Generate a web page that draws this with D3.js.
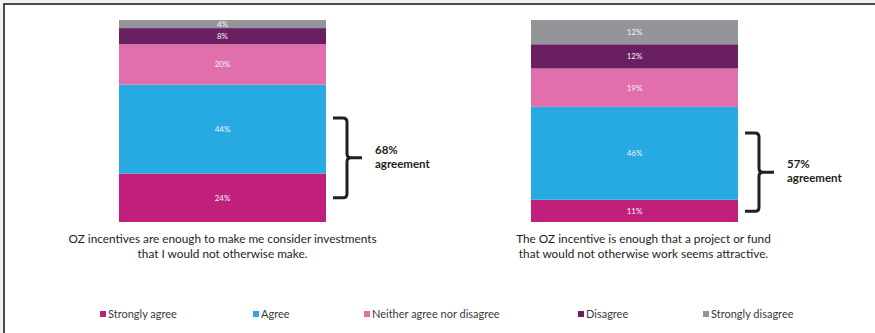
<!DOCTYPE html>
<html>
<head>
<meta charset="utf-8">
<script src="https://cdn.jsdelivr.net/npm/d3@7"></script>
<style>
	body { margin: 0; background: #f2f3f5; }
	svg { display: block; font-family: Lato, 'Open Sans', sans-serif; }
</style>
</head>
<body>
<div id="chart"></div>
<script>
// questions (one stacked column each)
var questions = ['q1', 'q2'];
var captions = [
	['OZ incentives are enough to make me consider investments', 'that I would not otherwise make.'],
	['The OZ incentive is enough that a project or fund', 'that would not otherwise work seems attractive.']
];
var categories = ['Strongly agree', 'Agree', 'Neither agree nor disagree', 'Disagree', 'Strongly disagree'];
var colors = ['#c0207b', '#27aae1', '#e16fab', '#6b1f63', '#939598'];

// percent per category, bottom to top
var q1Values = [24, 44, 20, 8, 4];
var q2Values = [11, 46, 19, 12, 12];

// agreement annotation
var agreeLabels = ['68%', '57%'];
var bracketRange = [[12, 51.5], [5.3, 44]];

var W = 875, H = 333;
var plotTop = 20, plotBottom = 222;

var svg = d3.select('#chart').append('svg').attr('width', W).attr('height', H);

// frame
svg.append('rect').attr('x', 4).attr('y', 4).attr('width', W + 10).attr('height', H + 10)
	.attr('fill', '#fff').attr('stroke', '#231f20').attr('stroke-width', 1.6);

var x = d3.scaleBand().domain(questions).range([16.5, 840.5]).paddingInner(0.4976).paddingOuter(0.2488);
var y = d3.scaleLinear().domain([0, 100]).range([plotBottom, plotTop]);

var rows = questions.map(function (q, i) {
	var vals = i === 0 ? q1Values : q2Values;
	var o = { q: q };
	categories.forEach(function (c, j) { o[c] = vals[j]; });
	return o;
});

var series = d3.stack().keys(categories)(rows);

var layer = svg.selectAll('g.layer')
	.data(series)
	.enter()
	.append('g')
	.attr('class', 'layer')
	.attr('fill', function (d, i) { return colors[i]; });

layer.selectAll('rect')
	.data(function (d) { return d; })
	.enter()
	.append('rect')
	.attr('x', function (d) { return x(d.data.q); })
	.attr('y', function (d) { return y(d[1]); })
	.attr('width', x.bandwidth())
	.attr('height', function (d) { return y(d[0]) - y(d[1]); });

// value labels
layer.selectAll('text')
	.data(function (d) { return d; })
	.enter()
	.append('text')
	.attr('x', function (d) { return x(d.data.q) + x.bandwidth() / 2; })
	.attr('y', function (d) { return (y(d[0]) + y(d[1])) / 2 + 3; })
	.attr('text-anchor', 'middle')
	.attr('fill', '#f4f4f4')
	.attr('font-size', '8px')
	.text(function (d) { return (d[1] - d[0]) + '%'; });

// captions
var capDx = [0, 9];
questions.forEach(function (q, i) {
	var cx = x(q) + x.bandwidth() / 2 + capDx[i];
	captions[i].forEach(function (line, k) {
		svg.append('text')
			.attr('x', cx)
			.attr('y', 243 + k * 15)
			.attr('text-anchor', 'middle')
			.attr('font-size', '11.8px')
			.attr('fill', '#231f20')
			.text(line);
	});
});

// brackets
questions.forEach(function (q, i) {
	var x0 = x(q) + x.bandwidth() + 7;
	var y0 = y(bracketRange[i][1]), y1 = y(bracketRange[i][0]);
	var xm = x0 + 14, ym = (y0 + y1) / 2;
	var r = 4;
	var p = d3.path();
	p.moveTo(x0, y0);
	p.lineTo(xm - r, y0);
	p.quadraticCurveTo(xm, y0, xm, y0 + r);
	p.lineTo(xm, ym - r);
	p.quadraticCurveTo(xm, ym, xm + r, ym);
	p.lineTo(xm + 15, ym);
	p.moveTo(xm + r, ym);
	p.quadraticCurveTo(xm, ym, xm, ym + r);
	p.lineTo(xm, y1 - r);
	p.quadraticCurveTo(xm, y1, xm - r, y1);
	p.lineTo(x0, y1);
	svg.append('path').attr('d', p.toString())
		.attr('fill', 'none').attr('stroke', '#231f20').attr('stroke-width', 3);

	var t = svg.append('text')
		.attr('x', xm + 28)
		.attr('y', ym - 4)
		.attr('font-size', '11.5px')
		.attr('font-weight', 'bold')
		.attr('fill', '#231f20');
	t.append('tspan').text(agreeLabels[i]);
	t.append('tspan').attr('x', xm + 28).attr('dy', 14).text('agreement');
});

// legend
var legendX = [100, 253, 364, 578, 703];
var lg = svg.selectAll('g.legend')
	.data(categories)
	.enter()
	.append('g')
	.attr('class', 'legend')
	.attr('transform', function (d, i) { return 'translate(' + legendX[i] + ',311)'; });

lg.append('rect').attr('width', 6).attr('height', 6).attr('fill', function (d, i) { return colors[i]; });
lg.append('text').attr('x', 8).attr('y', 6.5)
	.attr('font-size', '11px').attr('fill', '#3a3a3a')
	.text(function (d) { return d; });
</script>
</body>
</html>
